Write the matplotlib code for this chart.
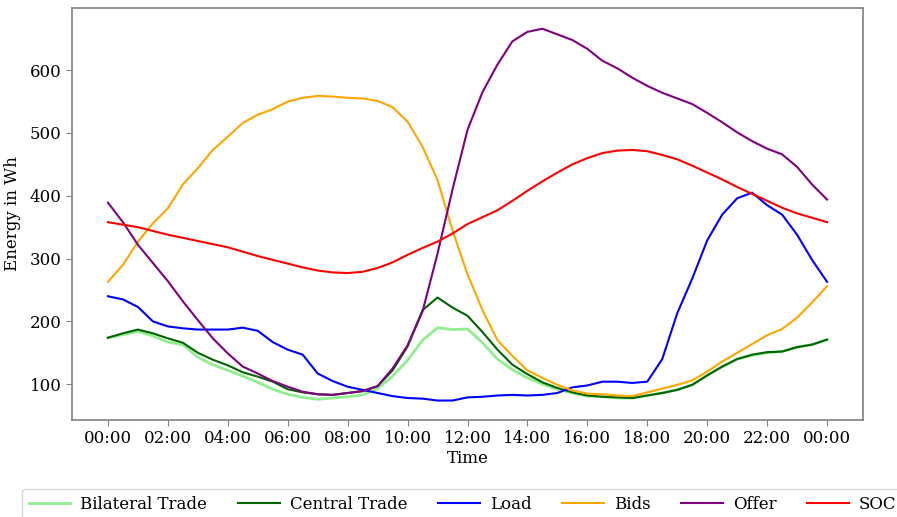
import matplotlib
matplotlib.use("Agg")
import matplotlib.pyplot as plt
import numpy as np

plt.rcParams['font.family'] = ['DejaVu Serif']

hours = [i * 0.5 for i in range(49)]

bilateral = [174, 179, 184, 177, 167, 163, 143, 131, 122, 113,
             103, 92, 84, 79, 76, 78, 80, 83, 93, 113,
             138, 170, 190, 187, 188, 166, 140, 123, 110, 100,
             92, 86, 81, 80, 78, 78, 82, 86, 91, 99,
             114, 128, 140, 146, 150, 152, 159, 163, 171]

central = [174, 181, 187, 181, 173, 166, 150, 139, 130, 119,
           112, 104, 92, 87, 84, 83, 86, 89, 97, 122,
           160, 218, 238, 222, 209, 183, 155, 131, 116, 103,
           94, 87, 82, 80, 79, 78, 82, 86, 91, 99,
           114, 128, 140, 147, 151, 152, 159, 163, 171]

load = [240, 235, 223, 200, 192, 189, 187, 187, 187, 190,
        185, 167, 155, 147, 117, 105, 96, 91, 86, 81,
        78, 77, 74, 74, 79, 80, 82, 83, 82, 83,
        86, 95, 98, 104, 104, 102, 104, 140, 213, 268,
        329, 370, 396, 405, 385, 370, 338, 298, 263]

bids = [263, 290, 327, 356, 380, 418, 444, 473, 494, 516,
        529, 538, 550, 556, 559, 558, 556, 555, 551, 541,
        518, 478, 425, 345, 275, 218, 170, 145, 122, 110,
        99, 90, 85, 84, 82, 81, 87, 93, 99, 106,
        120, 136, 150, 164, 178, 188, 206, 230, 256]

offer = [389, 358, 322, 293, 264, 232, 202, 173, 149, 128,
         117, 105, 96, 88, 84, 83, 86, 89, 97, 125,
         162, 216, 308, 410, 505, 565, 609, 646, 661, 666,
         657, 648, 634, 615, 603, 588, 575, 564, 555, 546,
         532, 517, 501, 487, 475, 466, 446, 418, 394]

soc = [358, 354, 350, 344, 338, 333, 328, 323, 318, 311,
       304, 298, 292, 286, 281, 278, 277, 279, 285, 294,
       306, 317, 327, 340, 355, 366, 377, 392, 408, 423,
       437, 450, 460, 468, 472, 473, 471, 465, 458, 448,
       437, 426, 414, 403, 392, 381, 372, 365, 358]

tick_hours = list(range(0, 25, 2))
tick_labels = ["00:00", "02:00", "04:00", "06:00", "08:00", "10:00", "12:00",
               "14:00", "16:00", "18:00", "20:00", "22:00", "00:00"]

fig = plt.figure(figsize=(8.97, 5.17), dpi=100)
ax = fig.add_axes([72/897, 1-420/517, (863-72)/897, (420-8)/517])

ax.plot(hours, bilateral, color='lightgreen', lw=2.0, label='Bilateral Trade')
ax.plot(hours, central, color='darkgreen', lw=1.5, label='Central Trade')
ax.plot(hours, load, color='blue', lw=1.5, label='Load')
ax.plot(hours, bids, color='orange', lw=1.5, label='Bids')
ax.plot(hours, offer, color='purple', lw=1.5, label='Offer')
ax.plot(hours, soc, color='red', lw=1.5, label='SOC')

ax.set_xlim(-1.2, 25.2)
ax.set_ylim(43, 699)
ax.set_xticks(tick_hours)
ax.set_xticklabels(tick_labels)
ax.set_yticks([100, 200, 300, 400, 500, 600])
ax.tick_params(labelsize=12, color='gray', length=4)
for s in ax.spines.values():
    s.set_color('gray')
    s.set_linewidth(1.2)

ax.set_xlabel('Time', fontsize=12, labelpad=2)
ax.set_ylabel('Energy in Wh', fontsize=12)
ax.yaxis.set_label_coords(-0.065, 0.5)

fig.legend(loc='upper left', bbox_to_anchor=(22/897, 1-489/517),
           bbox_transform=fig.transFigure, ncol=6, fontsize=12,
           handlelength=2.5, handletextpad=0.6, columnspacing=1.85,
           borderaxespad=0, borderpad=0.4)

fig.savefig('out.png', dpi=100)
